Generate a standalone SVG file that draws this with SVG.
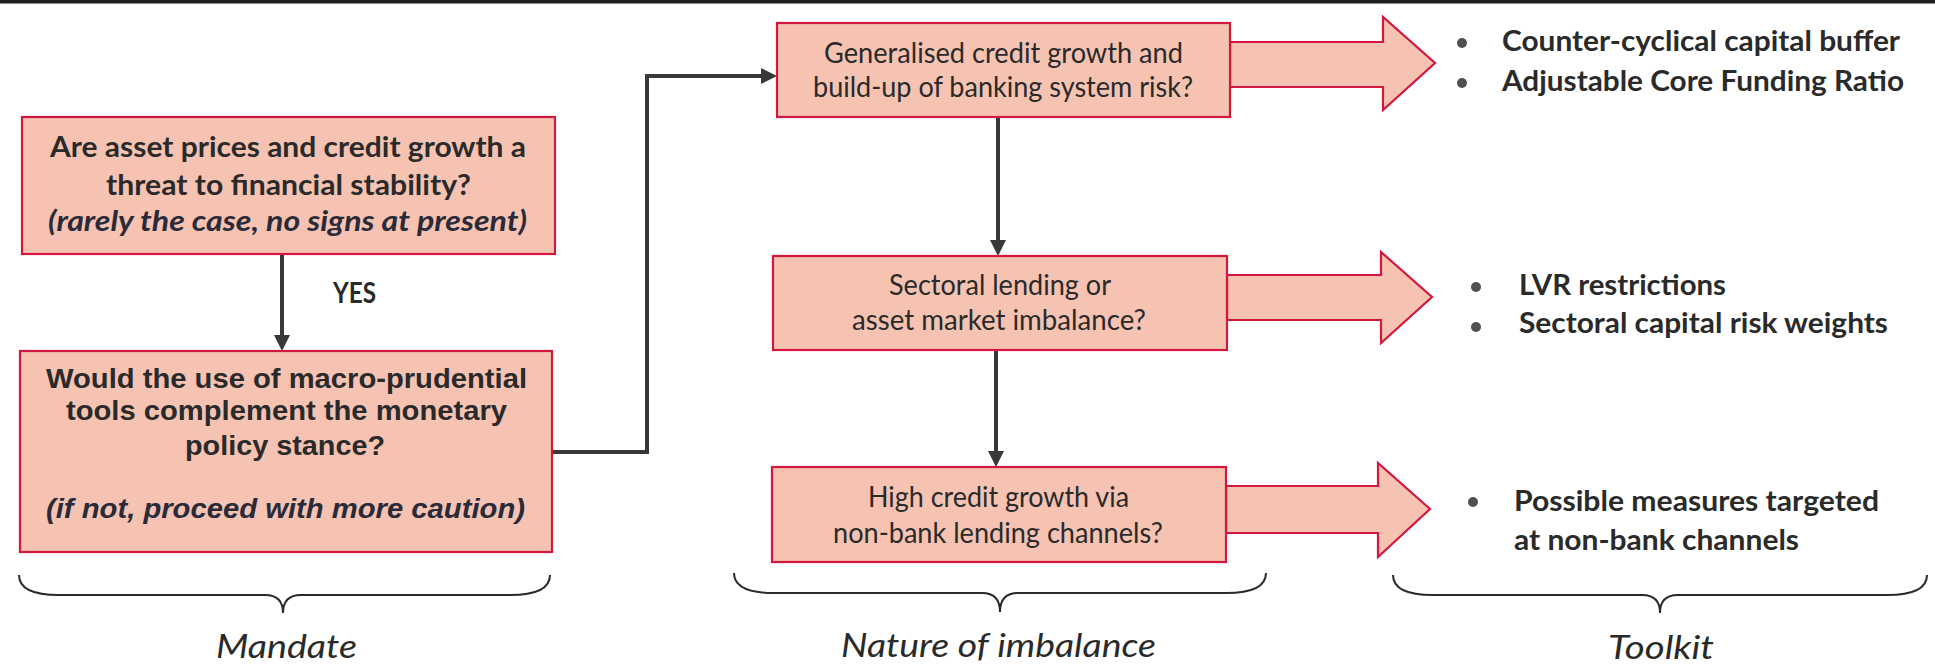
<svg xmlns="http://www.w3.org/2000/svg" width="1935" height="672" viewBox="0 0 1935 672">
<style>
.box{fill:#f6c3b3;stroke:#d3173f;stroke-width:2.2}
.blk{fill:#f6c3b3;stroke:#d3173f;stroke-width:2.2;stroke-linejoin:miter}
.conn{fill:none;stroke:#383838;stroke-width:4}
.brace{fill:none;stroke:#2a2a2a;stroke-width:2}
.cb{font-family:Lato,"Open Sans",sans-serif;font-weight:bold;font-size:28px;fill:#2a2a2a}
.cbi{font-family:Lato,"Open Sans",sans-serif;font-weight:bold;font-style:italic;font-size:28px;fill:#2a2a38}
.cr{font-family:Lato,"Open Sans",sans-serif;font-size:28px;fill:#2a2a2a}
.ab{font-family:"Liberation Sans",Arial,sans-serif;font-weight:bold;font-size:28px;fill:#2a2a2a}
.abi{font-family:"Liberation Sans",Arial,sans-serif;font-weight:bold;font-style:italic;font-size:28px;fill:#2a2a38}
.lbl{font-family:Lato,"Open Sans",sans-serif;font-style:italic;font-size:33px;fill:#2a2a2a}
.mid{text-anchor:middle}
.bul{fill:#505050}
</style>
<defs>
<marker id="ah" viewBox="0 0 16 16" refX="10" refY="8" markerWidth="16" markerHeight="16" markerUnits="userSpaceOnUse" orient="auto">
<path d="M0,0 L16,8 L0,16 z" fill="#383838"/>
</marker>
</defs>
<rect x="0" y="0" width="1935" height="3.5" fill="#1e1e1e"/>

<g id="connectors">
<path class="conn" d="M282,254 L282,345" marker-end="url(#ah)"/>
<path class="conn" d="M552,452 L647,452 L647,76 L771,76" marker-end="url(#ah)"/>
<path class="conn" d="M998,117 L998,250" marker-end="url(#ah)"/>
<path class="conn" d="M996,350 L996,461" marker-end="url(#ah)"/>
</g>

<g id="node-threat">
<rect class="box" x="22" y="117" width="533" height="137"/>
<text class="cb mid" x="288" y="157" textLength="476" lengthAdjust="spacingAndGlyphs">Are asset prices and credit growth a</text>
<text class="cb mid" x="288.5" y="195" textLength="365" lengthAdjust="spacingAndGlyphs">threat to financial stability?</text>
<text class="cbi mid" x="287.5" y="231" textLength="479" lengthAdjust="spacingAndGlyphs">(rarely the case, no signs at present)</text>
</g>

<g id="label-yes">
<text class="cb mid" x="354.5" y="303" textLength="43" lengthAdjust="spacingAndGlyphs">YES</text>
</g>

<g id="node-complement">
<rect class="box" x="20" y="351" width="532" height="201"/>
<text class="ab mid" x="286.5" y="388" textLength="481" lengthAdjust="spacingAndGlyphs">Would the use of macro-prudential</text>
<text class="ab mid" x="286.5" y="420" textLength="441" lengthAdjust="spacingAndGlyphs">tools complement the monetary</text>
<text class="ab mid" x="285" y="455" textLength="200" lengthAdjust="spacingAndGlyphs">policy stance?</text>
<text class="abi mid" x="285.5" y="518" textLength="479" lengthAdjust="spacingAndGlyphs">(if not, proceed with more caution)</text>
</g>

<g id="node-generalised">
<polygon class="blk" points="1230,42 1383,42 1383,17 1435,63 1383,110 1383,87 1230,87"/>
<rect class="box" x="777" y="23" width="453" height="94"/>
<text class="cr mid" x="1003.5" y="63" textLength="359" lengthAdjust="spacingAndGlyphs">Generalised credit growth and</text>
<text class="cr mid" x="1003" y="97" textLength="380" lengthAdjust="spacingAndGlyphs">build-up of banking system risk?</text>
</g>

<g id="node-sectoral">
<polygon class="blk" points="1227,275 1381,275 1381,252 1432,297 1381,343 1381,320 1227,320"/>
<rect class="box" x="773" y="256" width="454" height="94"/>
<text class="cr mid" x="1000" y="295" textLength="222" lengthAdjust="spacingAndGlyphs">Sectoral lending or</text>
<text class="cr mid" x="999" y="330" textLength="294" lengthAdjust="spacingAndGlyphs">asset market imbalance?</text>
</g>

<g id="node-nonbank">
<polygon class="blk" points="1226,486 1378,486 1378,463 1430,509 1378,557 1378,533 1226,533"/>
<rect class="box" x="772" y="467" width="454" height="95"/>
<text class="cr mid" x="998.5" y="507" textLength="261" lengthAdjust="spacingAndGlyphs">High credit growth via</text>
<text class="cr mid" x="998" y="543" textLength="330" lengthAdjust="spacingAndGlyphs">non-bank lending channels?</text>
</g>

<g id="toolkit-1">
<circle class="bul" cx="1462" cy="43" r="5"/>
<circle class="bul" cx="1462" cy="83" r="5"/>
<text class="cb" x="1502" y="51" textLength="398" lengthAdjust="spacingAndGlyphs">Counter-cyclical capital buffer</text>
<text class="cb" x="1502" y="91" textLength="402" lengthAdjust="spacingAndGlyphs">Adjustable Core Funding Ratio</text>
</g>

<g id="toolkit-2">
<circle class="bul" cx="1476" cy="287" r="5"/>
<circle class="bul" cx="1476" cy="327" r="5"/>
<text class="cb" x="1519" y="295" textLength="207" lengthAdjust="spacingAndGlyphs">LVR restrictions</text>
<text class="cb" x="1519" y="333" textLength="369" lengthAdjust="spacingAndGlyphs">Sectoral capital risk weights</text>
</g>

<g id="toolkit-3">
<circle class="bul" cx="1473" cy="502" r="5"/>
<text class="cb" x="1514" y="511" textLength="365" lengthAdjust="spacingAndGlyphs">Possible measures targeted</text>
<text class="cb" x="1514" y="550" textLength="285" lengthAdjust="spacingAndGlyphs">at non-bank channels</text>
</g>

<g id="brace-mandate">
<path class="brace" d="M19,575 Q19,595 59,595 L265,595 Q283,595 283,613 Q283,595 301,595 L510,595 Q550,595 550,575"/>
<text class="lbl mid" x="286.5" y="658" textLength="141" lengthAdjust="spacingAndGlyphs">Mandate</text>
</g>

<g id="brace-nature">
<path class="brace" d="M734,573 Q734,593 774,593 L982,593 Q1000,593 1000,612 Q1000,593 1018,593 L1226,593 Q1266,593 1266,573"/>
<text class="lbl mid" x="998.5" y="657" textLength="315" lengthAdjust="spacingAndGlyphs">Nature of imbalance</text>
</g>

<g id="brace-toolkit">
<path class="brace" d="M1393,575 Q1393,595 1433,595 L1642,595 Q1660,595 1660,613 Q1660,595 1678,595 L1887,595 Q1927,595 1927,575"/>
<text class="lbl mid" x="1661" y="659" textLength="106" lengthAdjust="spacingAndGlyphs">Toolkit</text>
</g>
</svg>
